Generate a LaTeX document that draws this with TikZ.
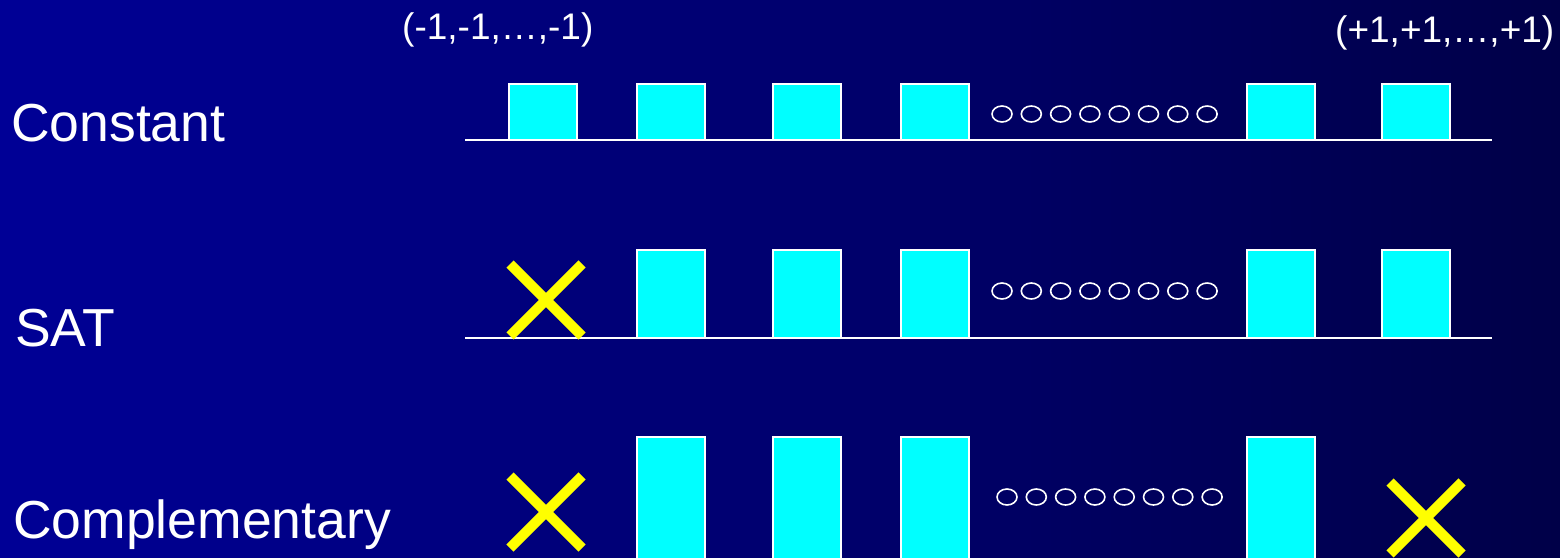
\documentclass[tikz,border=0pt]{standalone}
\usepackage{fontspec}
\setmainfont{Liberation Sans}
\usetikzlibrary{positioning}
\definecolor{slideBlue}{RGB}{0,0,150}
\definecolor{slideNavy}{RGB}{0,0,72}
\definecolor{barCyan}{RGB}{0,255,255}
\definecolor{crossYellow}{RGB}{255,255,0}

\tikzset{
  rowlabel/.style={text=white,anchor=base west,inner sep=0pt,font=\fontsize{53.5}{60}\selectfont},
  endlabel/.style={text=white,anchor=base west,inner sep=0pt,font=\fontsize{37}{40}\selectfont},
  bar/.style={draw=white,fill=barCyan,line width=2pt},
  axis/.style={draw=white,line width=2pt},
  dot/.style={draw=white,line width=1.6pt},
  cross/.style={draw=crossYellow,line width=10pt}
}

\begin{document}
\begin{tikzpicture}[x=1pt,y=-1pt]
\useasboundingbox (0,0) rectangle (1560,557);
\shade[left color=slideBlue,right color=slideNavy] (0,0) rectangle (1560,557);

% labels
\node[endlabel] (lowend) at (402,39) {(-1,-1,…,-1)};
\node[endlabel] (highend) at (1335,42) {(+1,+1,…,+1)};
\node[rowlabel] (constant) at (11,141) {Constant};
\node[rowlabel] (sat) at (15,346) {SAT};
\node[rowlabel] (compl) at (13,538) {Complementary};

% constant row
\draw[axis] (465,140) -- (1492,140);
\foreach \x in {509,637,773,901,1247,1382}
  \draw[bar] (\x,84) rectangle ++(68,56);
\foreach \i in {0,...,7}
  \draw[dot] (1002+29.3*\i,114) ellipse (10 and 8);

% SAT row
\draw[axis] (465,338) -- (1492,338);
\foreach \x in {637,773,901,1247,1382}
  \draw[bar] (\x,250) rectangle ++(68,88);
\foreach \i in {0,...,7}
  \draw[dot] (1002+29.3*\i,291) ellipse (10 and 8);

% complementary row
\foreach \x in {637,773,901,1247}
  \draw[bar] (\x,437) rectangle ++(68,125);
\foreach \i in {0,...,7}
  \draw[dot] (1007+29.3*\i,497) ellipse (10 and 8);

% crosses
\coordinate (satx) at (546,300);
\coordinate (lowx) at (546,512);
\coordinate (highx) at (1426,518);
\foreach \c in {satx,lowx,highx} {
  \draw[cross] (\c) ++(-36,-36) -- ++(72,72);
  \draw[cross] (\c) ++(36,-36) -- ++(-72,72);
}
\end{tikzpicture}
\end{document}
